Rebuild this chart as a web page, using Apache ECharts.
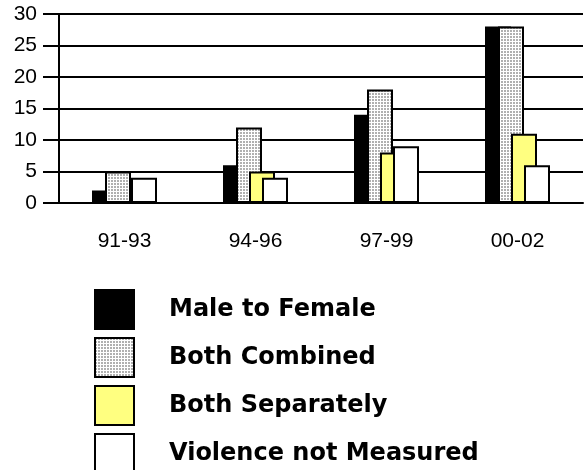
<!DOCTYPE html>
<html>
<head>
<meta charset="utf-8">
<script src="https://cdn.jsdelivr.net/npm/echarts@6/dist/echarts.min.js"></script>
<style>
  html, body { margin: 0; padding: 0; background: #fff; }
  #chart { width: 586px; height: 470px; }
</style>
</head>
<body>
<div id="chart"></div>
<script>
// 数据
const categories = ['91-93', '94-96', '97-99', '00-02']
const seriesNames = ['Male to Female', 'Both Combined', 'Both Separately', 'Violence not Measured']
const maleToFemale = [2, 6, 14, 28]
const bothCombined = [5, 12, 18, 28]
const bothSeparately = [0, 5, 8, 11]
const notMeasured = [4, 4, 9, 6]

// 点状填充图案
const dots = document.createElement('canvas')
dots.width = 3
dots.height = 3
const ctx = dots.getContext('2d')
ctx.fillStyle = '#ffffff'
ctx.fillRect(0, 0, 3, 3)
ctx.fillStyle = '#b0b0b0'
ctx.fillRect(0, 0, 2, 2)

const fills = ['#000000', { image: dots, repeat: 'repeat' }, '#ffff80', '#ffffff']
const values = [maleToFemale, bothCombined, bothSeparately, notMeasured]

const chart = echarts.init(document.getElementById('chart'))

const labelFont = {
  fontFamily: '"Liberation Sans", Arial, sans-serif',
  fontSize: 21,
  color: '#000'
}

const optionData = {
  animation: false,
  backgroundColor: '#fff',
  grid: { left: 59, right: 3, top: 14, bottom: 267 },
  legend: {
    orient: 'vertical',
    left: 94,
    top: 289,
    height: 200,
    padding: 0,
    itemWidth: 39,
    itemHeight: 39,
    itemGap: 7,
    icon: 'rect',
    data: seriesNames,
    textStyle: {
      fontFamily: '"DejaVu Sans", sans-serif',
      fontWeight: 'bold',
      fontSize: 24,
      color: '#000',
      padding: [10, 0, 0, 30]
    }
  },
  xAxis: [
    {
      type: 'category',
      data: categories,
      axisLine: { lineStyle: { color: '#000', width: 2 } },
      axisTick: { alignWithLabel: true, length: 14, lineStyle: { color: '#000', width: 2 } },
      axisLabel: Object.assign({ margin: 28 }, labelFont)
    },
    {
      // 类目边界处的小刻度
      type: 'category',
      data: categories,
      position: 'bottom',
      offset: 0,
      axisLine: { show: false },
      axisTick: { length: 3, lineStyle: { color: '#000', width: 1 } },
      axisLabel: { show: false }
    }
  ],
  yAxis: {
    type: 'value',
    min: 0,
    max: 30,
    interval: 5,
    axisLine: { show: true, lineStyle: { color: '#000', width: 2 } },
    axisTick: { show: true, length: 16, lineStyle: { color: '#000', width: 2 } },
    axisLabel: Object.assign({ margin: 22 }, labelFont),
    splitLine: { lineStyle: { color: '#000', width: 2 } }
  },
  series: seriesNames.map((name, i) => ({
    name: name,
    type: 'bar',
    xAxisIndex: 0,
    data: values[i],
    barWidth: 26,
    barGap: '-50%',
    itemStyle: { color: fills[i], borderColor: '#000', borderWidth: 2 }
  }))
}

chart.setOption(optionData)
</script>
</body>
</html>
